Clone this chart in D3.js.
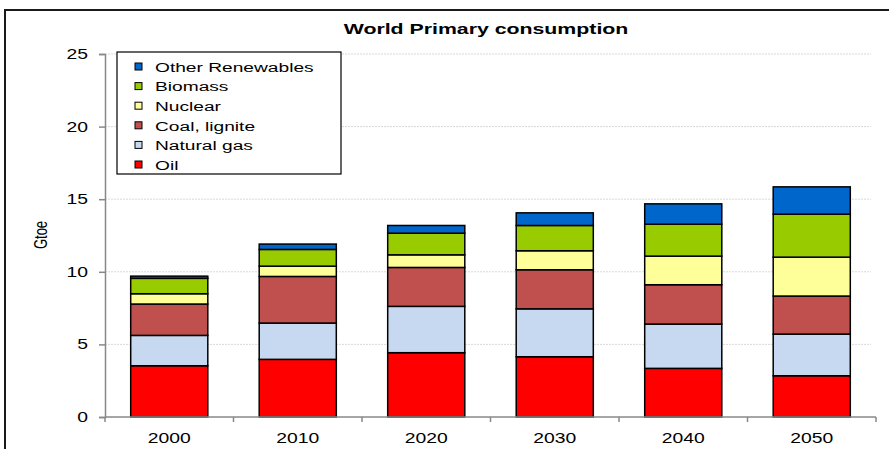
<!DOCTYPE html>
<html>
<head>
<meta charset="utf-8">
<script src="https://cdn.jsdelivr.net/npm/d3@7"></script>
<style>
  body { margin: 0; background: #fff; }
  text { font-family: "Liberation Sans", Arial, sans-serif; fill: #000; }
</style>
</head>
<body>
<div class="chart"></div>
<script>
// data (Gtoe)
var years = ["2000", "2010", "2020", "2030", "2040", "2050"];
var series = ["Oil", "Natural gas", "Coal, lignite", "Nuclear", "Biomass", "Other Renewables"];
var colors = ["#ff0000", "#c6d9f1", "#c0504d", "#ffff99", "#99cc00", "#0066cc"];
var oil = [3.53, 3.97, 4.43, 4.15, 3.35, 2.84];
var gas = [2.09, 2.50, 3.19, 3.30, 3.05, 2.87];
var coal = [2.16, 3.21, 2.68, 2.69, 2.71, 2.62];
var nuclear = [0.71, 0.71, 0.87, 1.31, 1.97, 2.68];
var biomass = [1.06, 1.15, 1.49, 1.74, 2.20, 2.96];
var otherRen = [0.15, 0.37, 0.53, 0.87, 1.40, 1.88];
var yTicks = [0, 5, 10, 15, 20, 25];

var W = 889, H = 449;
var sx = 1.38; // the original is stretched sideways
var margin = {top: 54, right: 13, bottom: 32, left: 105};
var width = 876 - margin.left, height = 417 - margin.top;

var cols = [oil, gas, coal, nuclear, biomass, otherRen];
var table = years.map(function (y, i) {
    var row = {year: y};
    series.forEach(function (s, k) { row[s] = cols[k][i]; });
    return row;
});
var stacked = d3.stack().keys(series)(table);

var svg = d3.select(".chart").append("svg")
    .attr("width", W)
    .attr("height", H);

// outer frame (runs off the right and bottom)
svg.append("rect")
    .attr("x", 5).attr("y", 10)
    .attr("width", W + 10).attr("height", H + 10)
    .attr("fill", "none")
    .attr("stroke", "#1a1a1a")
    .attr("stroke-width", 2);

var g = svg.append("g")
    .attr("transform", "translate(" + margin.left + "," + margin.top + ")");

var x = d3.scaleBand().domain(years).range([0, width]).paddingInner(0.4).paddingOuter(0.2);
var band = d3.scaleBand().domain(years).range([0, width]);
var y = d3.scaleLinear().domain([0, 25]).range([height, 0]);

// gridlines
g.append("g").selectAll("line")
    .data(yTicks.filter(function (d) { return d > 0; }))
    .enter().append("line")
    .attr("x1", 0).attr("x2", width - 5)
    .attr("y1", function (d) { return y(d); })
    .attr("y2", function (d) { return y(d); })
    .attr("stroke", "#d9d9d9")
    .attr("stroke-dasharray", "2,1");

// bars
g.append("g").selectAll("g")
    .data(stacked)
    .enter().append("g")
    .attr("fill", function (d, i) { return colors[i]; })
    .selectAll("rect")
    .data(function (d) { return d; })
    .enter().append("rect")
    .attr("x", function (d) { return x(d.data.year); })
    .attr("width", x.bandwidth())
    .attr("y", function (d) { return y(d[1]); })
    .attr("height", function (d) { return y(d[0]) - y(d[1]); })
    .attr("stroke", "#000")
    .attr("stroke-width", 1.5);

// y axis
var ya = g.append("g")
    .call(d3.axisLeft(y).tickValues(yTicks).tickSize(6));
ya.select(".domain").attr("stroke", "#888").attr("stroke-width", 1.5);
ya.selectAll(".tick line").attr("stroke", "#888").attr("stroke-width", 1.5);
ya.selectAll(".tick text")
    .style("font-size", "14px")
    .attr("x", -17 / sx)
    .attr("transform", "scale(" + sx + ",1)");

// x axis: ticks sit on the category boundaries
var xa = g.append("g").attr("transform", "translate(0," + height + ")");
xa.append("line")
    .attr("x1", 0).attr("x2", width)
    .attr("stroke", "#888").attr("stroke-width", 1.5);
xa.selectAll(".xtick")
    .data(years.concat(["end"]))
    .enter().append("line")
    .attr("class", "xtick")
    .attr("x1", function (d, i) { return i * band.bandwidth(); })
    .attr("x2", function (d, i) { return i * band.bandwidth(); })
    .attr("y1", 0).attr("y2", 5)
    .attr("stroke", "#888").attr("stroke-width", 1.5);
xa.selectAll(".xlab")
    .data(years)
    .enter().append("text")
    .attr("class", "xlab")
    .attr("text-anchor", "middle")
    .style("font-size", "14px")
    .attr("transform", function (d) {
        return "translate(" + (band(d) + band.bandwidth() / 2) + ",26) scale(" + sx + ",1)";
    })
    .text(function (d) { return d; });

// y label
svg.append("text")
    .attr("text-anchor", "middle")
    .style("font-size", "13px")
    .attr("transform", "translate(47,235) scale(" + sx + ",1) rotate(-90)")
    .text("Gtoe");

// title
svg.append("text")
    .attr("text-anchor", "middle")
    .style("font-size", "15px")
    .style("font-weight", "bold")
    .attr("transform", "translate(486,34) scale(1.42,1)")
    .text("World Primary consumption");

// legend
var lg = svg.append("g").attr("transform", "translate(117,52)");
lg.append("rect")
    .attr("width", 224).attr("height", 122)
    .attr("fill", "#fff")
    .attr("stroke", "#000").attr("stroke-width", 1.2);
var items = lg.selectAll(".item")
    .data(series.slice().reverse())
    .enter().append("g")
    .attr("class", "item")
    .attr("transform", function (d, i) { return "translate(18," + (15 + i * 19.6) + ")"; });
items.append("rect")
    .attr("y", -4)
    .attr("width", 7).attr("height", 7)
    .attr("fill", function (d) { return colors[series.indexOf(d)]; })
    .attr("stroke", "#000").attr("stroke-width", 1);
items.append("text")
    .style("font-size", "13.5px")
    .attr("transform", "translate(20,0) scale(1.42,1)")
    .attr("dy", "0.35em")
    .text(function (d) { return d; });
</script>
</body>
</html>
